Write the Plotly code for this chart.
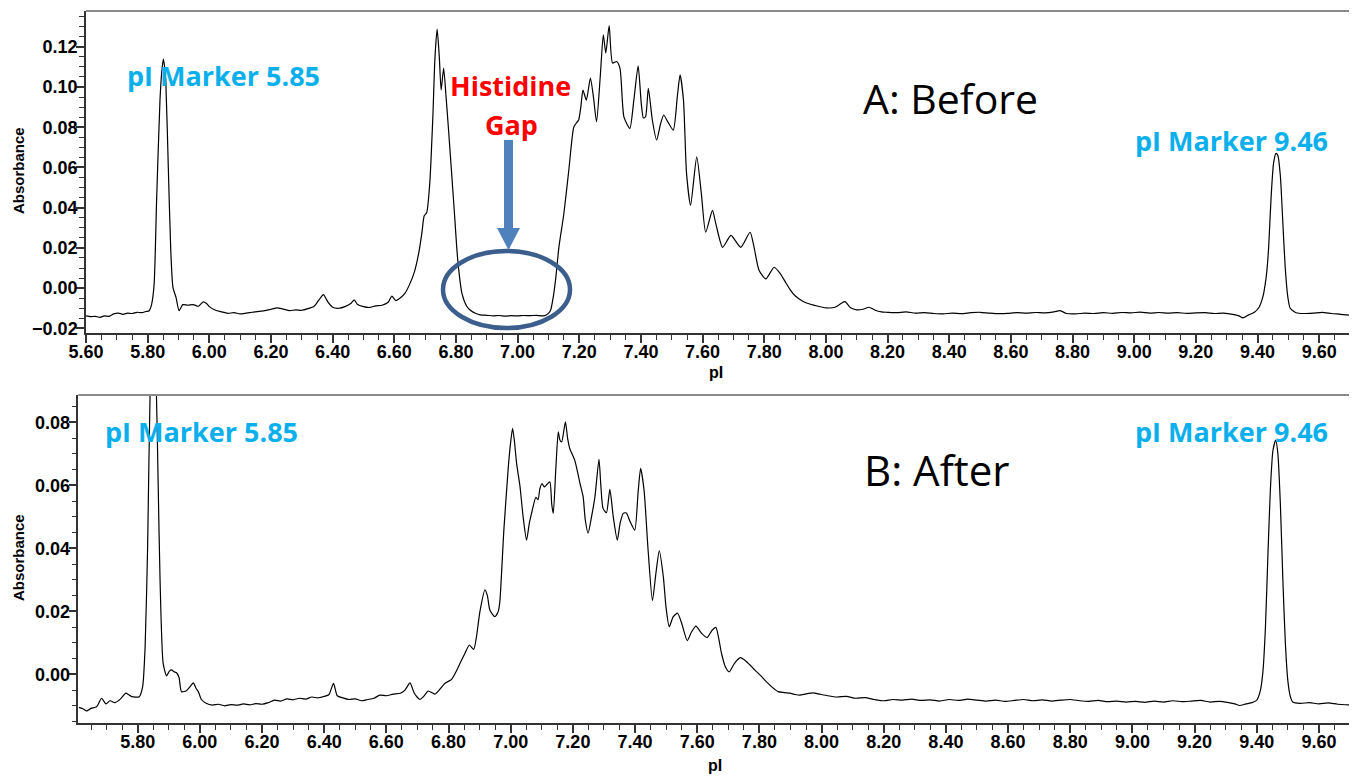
import plotly.graph_objects as go

# page offset (browser body margin) compensated so that paper pixels match the reference
OFF = 8
W, H = 1357 - OFF, 779 - OFF

# ---------------- data ----------------
before_pI = [5.600, 5.615, 5.630, 5.645, 5.660, 5.675, 5.690, 5.705, 5.720, 5.735, 5.750, 5.765, 5.780, 5.795, 5.805,
             5.813, 5.821, 5.829, 5.840, 5.846, 5.851, 5.855, 5.859, 5.867, 5.875, 5.882, 5.892, 5.902, 5.914, 5.930,
             5.948, 5.965, 5.980, 5.990, 6.000, 6.020, 6.040, 6.060, 6.080, 6.100, 6.120, 6.140, 6.160, 6.180, 6.200,
             6.220, 6.240, 6.260, 6.280, 6.300, 6.320, 6.340, 6.355, 6.370, 6.385, 6.400, 6.420, 6.440, 6.460, 6.470,
             6.480, 6.500, 6.520, 6.540, 6.560, 6.580, 6.592, 6.605, 6.620, 6.635, 6.650, 6.665, 6.680, 6.690, 6.697,
             6.705, 6.715, 6.725, 6.732, 6.739, 6.746, 6.752, 6.760, 6.768, 6.776, 6.793, 6.806, 6.820, 6.835, 6.847,
             6.863, 6.879, 6.900, 6.920, 6.940, 6.960, 6.980, 7.000, 7.020, 7.040, 7.060, 7.084, 7.098, 7.107, 7.115,
             7.123, 7.134, 7.150, 7.166, 7.182, 7.190, 7.198, 7.205, 7.212, 7.223, 7.236, 7.246, 7.256, 7.268, 7.278,
             7.286, 7.297, 7.308, 7.321, 7.332, 7.345, 7.364, 7.377, 7.391, 7.401, 7.408, 7.415, 7.424, 7.437, 7.451,
             7.464, 7.474, 7.487, 7.505, 7.518, 7.527, 7.538, 7.548, 7.561, 7.581, 7.596, 7.610, 7.632, 7.643, 7.665,
             7.692, 7.724, 7.754, 7.767, 7.783, 7.805, 7.832, 7.853, 7.870, 7.885, 7.900, 7.925, 7.950, 7.975, 8.000,
             8.030, 8.050, 8.062, 8.080, 8.100, 8.120, 8.140, 8.160, 8.180, 8.200, 8.230, 8.260, 8.290, 8.320, 8.350,
             8.380, 8.410, 8.440, 8.470, 8.500, 8.530, 8.560, 8.590, 8.620, 8.650, 8.680, 8.710, 8.740, 8.760, 8.780,
             8.810, 8.840, 8.870, 8.900, 8.930, 8.960, 8.990, 9.020, 9.050, 9.080, 9.110, 9.140, 9.170, 9.200, 9.230,
             9.260, 9.290, 9.320, 9.340, 9.353, 9.370, 9.390, 9.405, 9.418, 9.424, 9.430, 9.436, 9.444, 9.452, 9.460,
             9.466, 9.474, 9.482, 9.490, 9.498, 9.506, 9.525, 9.550, 9.580, 9.610, 9.640, 9.670, 9.700]
before_abs = [-0.0138, -0.0142, -0.0140, -0.0145, -0.0138, -0.0140, -0.0128, -0.0124, -0.0130, -0.0124, -0.0126, -0.0120, -0.0122, -0.0116, -0.0112,
              -0.0079, 0.0020, 0.0437, 0.0935, 0.1080, 0.1139, 0.1100, 0.1019, 0.0600, 0.0187, 0.0004, -0.0046, -0.0112, -0.0082, -0.0085,
              -0.0082, -0.0090, -0.0068, -0.0075, -0.0092, -0.0110, -0.0118, -0.0125, -0.0122, -0.0128, -0.0124, -0.0120, -0.0115, -0.0112, -0.0105,
              -0.0098, -0.0104, -0.0112, -0.0108, -0.0110, -0.0102, -0.0090, -0.0060, -0.0032, -0.0070, -0.0095, -0.0100, -0.0092, -0.0075, -0.0058,
              -0.0080, -0.0092, -0.0096, -0.0088, -0.0085, -0.0070, -0.0040, -0.0062, -0.0048, -0.0025, 0.0020, 0.0080, 0.0180, 0.0280, 0.0360,
              0.0375, 0.0520, 0.0850, 0.1150, 0.1288, 0.1150, 0.0985, 0.1094, 0.0950, 0.0786, 0.0420, 0.0137, -0.0030, -0.0090, -0.0110,
              -0.0125, -0.0133, -0.0135, -0.0138, -0.0136, -0.0139, -0.0137, -0.0138, -0.0136, -0.0137, -0.0135, -0.0138, -0.0128, -0.0110, -0.0050,
              0.0040, 0.0204, 0.0370, 0.0586, 0.0800, 0.0820, 0.0836, 0.0900, 0.0985, 0.0935, 0.1044, 0.0950, 0.0827, 0.1050, 0.1260,
              0.1169, 0.1305, 0.1119, 0.1127, 0.1094, 0.0850, 0.0794, 0.0935, 0.1105, 0.0920, 0.0846, 0.0852, 0.0994, 0.0836, 0.0736,
              0.0819, 0.0861, 0.0827, 0.0786, 0.0952, 0.1060, 0.0935, 0.0570, 0.0412, 0.0653, 0.0470, 0.0278, 0.0387, 0.0320, 0.0203,
              0.0262, 0.0203, 0.0278, 0.0203, 0.0089, 0.0046, 0.0104, 0.0070, 0.0027, -0.0010, -0.0038, -0.0065, -0.0080, -0.0090, -0.0098,
              -0.0095, -0.0075, -0.0067, -0.0098, -0.0108, -0.0105, -0.0095, -0.0110, -0.0118, -0.0120, -0.0122, -0.0118, -0.0124, -0.0122, -0.0126,
              -0.0128, -0.0124, -0.0127, -0.0122, -0.0120, -0.0124, -0.0127, -0.0125, -0.0122, -0.0124, -0.0121, -0.0123, -0.0118, -0.0112, -0.0126,
              -0.0128, -0.0124, -0.0126, -0.0122, -0.0125, -0.0121, -0.0123, -0.0119, -0.0124, -0.0121, -0.0124, -0.0122, -0.0125, -0.0123, -0.0122,
              -0.0126, -0.0124, -0.0130, -0.0138, -0.0148, -0.0134, -0.0120, -0.0095, -0.0040, 0.0010, 0.0080, 0.0200, 0.0450, 0.0620, 0.0670,
              0.0660, 0.0560, 0.0330, 0.0100, -0.0040, -0.0100, -0.0122, -0.0126, -0.0124, -0.0120, -0.0126, -0.0130, -0.0135]

after_pI = [5.611, 5.625, 5.636, 5.650, 5.668, 5.684, 5.698, 5.711, 5.727, 5.745, 5.762, 5.781, 5.805, 5.816, 5.824,
            5.832, 5.841, 5.850, 5.859, 5.866, 5.872, 5.882, 5.893, 5.902, 5.909, 5.917, 5.925, 5.933, 5.941, 5.957,
            5.968, 5.979, 5.988, 5.995, 6.005, 6.020, 6.040, 6.060, 6.080, 6.100, 6.120, 6.140, 6.160, 6.180, 6.200,
            6.220, 6.240, 6.260, 6.280, 6.300, 6.320, 6.340, 6.360, 6.380, 6.400, 6.415, 6.430, 6.442, 6.460, 6.480,
            6.500, 6.520, 6.540, 6.560, 6.579, 6.600, 6.622, 6.645, 6.660, 6.676, 6.690, 6.708, 6.720, 6.735, 6.756,
            6.770, 6.788, 6.810, 6.825, 6.837, 6.853, 6.867, 6.881, 6.890, 6.901, 6.917, 6.925, 6.933, 6.949, 6.960,
            6.965, 6.978, 6.992, 6.998, 7.006, 7.012, 7.019, 7.030, 7.040, 7.051, 7.060, 7.067, 7.081, 7.088, 7.094,
            7.101, 7.108, 7.115, 7.126, 7.132, 7.137, 7.145, 7.153, 7.158, 7.164, 7.176, 7.183, 7.190, 7.206, 7.223,
            7.233, 7.240, 7.249, 7.260, 7.271, 7.284, 7.290, 7.297, 7.308, 7.319, 7.330, 7.343, 7.352, 7.362, 7.372,
            7.383, 7.399, 7.410, 7.418, 7.429, 7.442, 7.456, 7.467, 7.478, 7.491, 7.500, 7.510, 7.523, 7.537, 7.550,
            7.568, 7.582, 7.596, 7.614, 7.632, 7.648, 7.660, 7.678, 7.690, 7.703, 7.720, 7.739, 7.759, 7.785, 7.805,
            7.823, 7.840, 7.860, 7.880, 7.898, 7.915, 7.930, 7.950, 7.973, 7.994, 8.020, 8.050, 8.080, 8.110, 8.140,
            8.170, 8.200, 8.230, 8.260, 8.290, 8.320, 8.350, 8.380, 8.410, 8.440, 8.470, 8.500, 8.530, 8.560, 8.590,
            8.620, 8.650, 8.680, 8.710, 8.740, 8.770, 8.800, 8.830, 8.860, 8.890, 8.920, 8.950, 8.980, 9.010, 9.040,
            9.070, 9.100, 9.130, 9.160, 9.190, 9.220, 9.250, 9.280, 9.310, 9.330, 9.345, 9.365, 9.385, 9.400, 9.412,
            9.420, 9.428, 9.436, 9.444, 9.452, 9.461, 9.468, 9.476, 9.484, 9.492, 9.500, 9.508, 9.516, 9.540, 9.570,
            9.600, 9.630, 9.660, 9.700]
after_abs = [-0.0105, -0.0110, -0.0116, -0.0108, -0.0103, -0.0076, -0.0094, -0.0084, -0.0090, -0.0078, -0.0060, -0.0071, -0.0071, -0.0039, 0.0088,
             0.0405, 0.0950, 0.1150, 0.0950, 0.0600, 0.0300, 0.0035, -0.0005, 0.0010, 0.0014, 0.0008, 0.0005, -0.0010, -0.0055, -0.0052,
             -0.0040, -0.0027, -0.0045, -0.0055, -0.0080, -0.0092, -0.0098, -0.0095, -0.0100, -0.0096, -0.0098, -0.0094, -0.0097, -0.0093, -0.0095,
             -0.0090, -0.0082, -0.0085, -0.0078, -0.0081, -0.0076, -0.0079, -0.0072, -0.0075, -0.0070, -0.0065, -0.0029, -0.0068, -0.0075, -0.0080,
             -0.0078, -0.0084, -0.0080, -0.0076, -0.0066, -0.0068, -0.0063, -0.0060, -0.0050, -0.0027, -0.0060, -0.0080, -0.0070, -0.0053, -0.0063,
             -0.0050, -0.0029, -0.0016, 0.0010, 0.0035, 0.0067, 0.0093, 0.0079, 0.0120, 0.0199, 0.0268, 0.0250, 0.0204, 0.0183, 0.0200,
             0.0230, 0.0458, 0.0654, 0.0720, 0.0781, 0.0740, 0.0670, 0.0596, 0.0500, 0.0426, 0.0480, 0.0511, 0.0562, 0.0555, 0.0590,
             0.0606, 0.0595, 0.0601, 0.0611, 0.0540, 0.0511, 0.0650, 0.0770, 0.0745, 0.0738, 0.0802, 0.0750, 0.0717, 0.0680, 0.0606,
             0.0564, 0.0490, 0.0448, 0.0500, 0.0564, 0.0683, 0.0600, 0.0527, 0.0513, 0.0587, 0.0500, 0.0426, 0.0480, 0.0511, 0.0512,
             0.0488, 0.0458, 0.0580, 0.0654, 0.0585, 0.0395, 0.0234, 0.0320, 0.0392, 0.0310, 0.0210, 0.0151, 0.0183, 0.0194, 0.0162,
             0.0107, 0.0135, 0.0153, 0.0130, 0.0117, 0.0140, 0.0149, 0.0067, 0.0025, 0.0008, 0.0035, 0.0053, 0.0040, 0.0014, -0.0005,
             -0.0024, -0.0040, -0.0055, -0.0058, -0.0060, -0.0064, -0.0066, -0.0062, -0.0059, -0.0063, -0.0068, -0.0072, -0.0070, -0.0076, -0.0074,
             -0.0080, -0.0084, -0.0080, -0.0082, -0.0079, -0.0083, -0.0081, -0.0085, -0.0080, -0.0083, -0.0079, -0.0082, -0.0085, -0.0082, -0.0086,
             -0.0083, -0.0080, -0.0084, -0.0081, -0.0085, -0.0082, -0.0080, -0.0084, -0.0086, -0.0083, -0.0087, -0.0085, -0.0088, -0.0086, -0.0089,
             -0.0085, -0.0088, -0.0084, -0.0087, -0.0085, -0.0083, -0.0088, -0.0086, -0.0090, -0.0094, -0.0099, -0.0094, -0.0090, -0.0082, -0.0050,
             0.0010, 0.0150, 0.0380, 0.0590, 0.0710, 0.0744, 0.0700, 0.0540, 0.0300, 0.0100, -0.0020, -0.0070, -0.0088, -0.0092, -0.0090,
             -0.0094, -0.0091, -0.0095, -0.0097]

before_xrange = [5.60, 9.70]
before_yrange = [-0.0223, 0.1378]
after_xrange = [5.609, 9.70]
after_yrange = [-0.01546, 0.0887]

# ---------------- layout helpers (reference pixel -> paper) ----------------
def px(x):
    return (x - OFF) / W

def py(y):
    return 1 - (y - OFF) / H

AX = '#333333'
TICKFONT = dict(family='Liberation Sans', size=18, color='black', weight='bold')

fig = go.Figure()
fig.add_trace(go.Scatter(x=before_pI, y=before_abs, mode='lines',
                         line=dict(color='black', width=1.2, shape='spline', smoothing=0.6),
                         xaxis='x', yaxis='y', showlegend=False))
fig.add_trace(go.Scatter(x=after_pI, y=after_abs, mode='lines',
                         line=dict(color='black', width=1.2, shape='spline', smoothing=0.6),
                         xaxis='x2', yaxis='y2', showlegend=False))

def xax(domain, rng, anchor):
    return dict(domain=domain, range=rng, anchor=anchor, showline=True, linecolor=AX, linewidth=1.5,
                ticks='outside', ticklen=8, tickwidth=1.5, tickcolor=AX, tick0=5.6, dtick=0.2,
                tickformat='.2f', tickfont=TICKFONT, showgrid=False, zeroline=False, automargin=False,
                ticklabelstandoff=-6,
                minor=dict(ticks='outside', dtick=0.05, tick0=5.6, ticklen=5, tickwidth=1.2, tickcolor=AX, showgrid=False))

def yax(domain, rng, anchor):
    return dict(domain=domain, range=rng, anchor=anchor, showline=True, linecolor=AX, linewidth=1.5,
                ticks='outside', ticklen=8, tickwidth=1.5, tickcolor=AX, tick0=0, dtick=0.02,
                tickformat='.2f', tickfont=TICKFONT, showgrid=False, zeroline=False, automargin=False,
                ticklabelstandoff=-5,
                minor=dict(ticks='outside', dtick=0.005, tick0=0, ticklen=5, tickwidth=1.2, tickcolor=AX, showgrid=False))

fig.update_layout(
    width=W, height=H, margin=dict(l=0, r=0, t=0, b=0, autoexpand=False),
    paper_bgcolor='white', plot_bgcolor='white',
    xaxis=xax([px(86), px(1350)], before_xrange, 'y'),
    yaxis=yax([py(333), py(11)], before_yrange, 'x'),
    xaxis2=xax([px(78.3), px(1350)], after_xrange, 'y2'),
    yaxis2=yax([py(723), py(395)], after_yrange, 'x2'),
)

shapes = []
# frame: top (grey) and right (black) borders
for (x0, x1, yt, yb) in [(86, 1350, 11, 333), (78.3, 1350, 395, 723)]:
    shapes.append(dict(type='line', xref='paper', yref='paper', x0=px(x0), x1=px(x1), y0=py(yt), y1=py(yt),
                       line=dict(color='#8a8a8a', width=2)))
    shapes.append(dict(type='line', xref='paper', yref='paper', x0=px(x1), x1=px(x1), y0=py(yt), y1=py(yb),
                       line=dict(color='black', width=1.5)))
# ellipse round the histidine gap
shapes.append(dict(type='circle', xref='paper', yref='paper', x0=px(443), x1=px(570), y0=py(328), y1=py(251),
                   line=dict(color='#3B5E8C', width=4.5)))
# arrow shaft and head
ARROW = '#4F81BD'
shapes.append(dict(type='rect', xref='paper', yref='paper', x0=px(504), x1=px(513), y0=py(229), y1=py(140),
                   line=dict(width=0), fillcolor=ARROW))
shapes.append(dict(type='path', xref='paper', yref='paper',
                   path=f'M {px(497)} {py(228)} L {px(520)} {py(228)} L {px(508.5)} {py(250)} Z',
                   line=dict(width=0), fillcolor=ARROW))
fig.update_layout(shapes=shapes)

BLUE = '#0AAFEC'
LBL = 'Open Sans'
ann = []
def text(t, x, y, size, color, bold=True, family=LBL, angle=0):
    ann.append(dict(text=t, x=px(x), y=py(y), xref='paper', yref='paper', showarrow=False,
                    xanchor='center', yanchor='middle', textangle=angle,
                    font=dict(family=family, size=size, color=color, weight='bold' if bold else 'normal')))

text('pI Marker 5.85', 223.5, 75, 27, BLUE)
text('pI Marker 9.46', 1231.5, 140, 27, BLUE)
text('Histidine', 510, 86, 27, '#FF0000')
text('Gap', 512, 124, 27, '#FF0000')
text('A: Before', 951, 98, 41, 'black', bold=False)
text('pI Marker 5.85', 201.5, 431, 27, BLUE)
text('pI Marker 9.46', 1231.5, 431, 27, BLUE)
text('B: After', 936, 469, 42, 'black', bold=False)
# axis titles
text('Absorbance', 18, 171, 15, 'black', family='Liberation Sans', angle=-90)
text('Absorbance', 18, 558, 15, 'black', family='Liberation Sans', angle=-90)
text('pI', 716, 372, 16, 'black', family='Liberation Sans')
text('pI', 715, 765, 16, 'black', family='Liberation Sans')
fig.update_layout(annotations=ann)

fig.write_html('out.html')
